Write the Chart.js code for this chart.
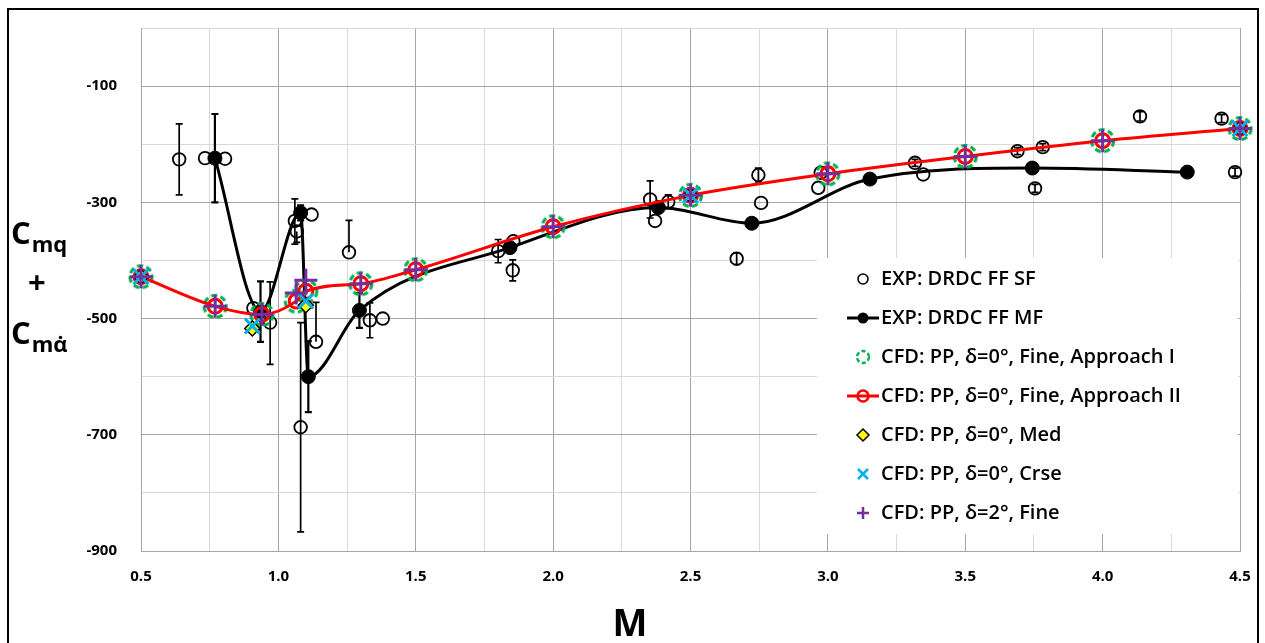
<!DOCTYPE html>
<html>
<head>
<meta charset="utf-8">
<script src="https://cdn.jsdelivr.net/npm/chart.js@4.4.0/dist/chart.umd.min.js"></script>
<style>
    body { margin: 0; background: #fff; }
    #wrap { position: relative; width: 1265px; height: 643px; overflow: hidden; background: #fff; }
    #frame { position: absolute; left: 7px; top: 8px; width: 1248px; height: 700px; border: 2px solid #000; }
    #chart { position: absolute; left: 0; top: 0; }
    .yt { position: absolute; font-family: "Open Sans", sans-serif; font-weight: 700; color: #000; line-height: 30px; font-size: 31px; white-space: nowrap; }
    .yt span { font-size: 22px; position: relative; top: 8px; margin-left: 1px; }
    #xtitle { position: absolute; left: 590px; width: 80px; top: 602px; text-align: center;
              font-family: "Open Sans", sans-serif; font-weight: 700; font-size: 37px; line-height: 40px; }
</style>
</head>
<body>
<div id="wrap">
    <div id="frame"></div>
    <canvas id="chart" width="1265" height="643"></canvas>
    <div class="yt" style="left:11px;top:217px">C<span>mq</span></div>
    <div class="yt" style="left:28px;top:266px">+</div>
    <div class="yt" style="left:11px;top:317px">C<span>mα̇</span></div>
    <div id="xtitle">M</div>
</div>
<script>
// EXP: DRDC FF SF (open circles, with error bars)
const sfMach   = [0.639, 0.733, 0.806, 0.909, 0.970, 1.060, 1.067, 1.081, 1.121, 1.137, 1.257, 1.333, 1.380, 1.800, 1.853, 1.855,
                  2.353, 2.371, 2.419, 2.668, 2.747, 2.757, 2.965, 2.974, 3.317, 3.347, 3.690, 3.754, 3.782, 4.136, 4.433, 4.482];
const sfCm     = [-226, -224, -225, -482, -507, -332, -350, -687, -321, -540, -386, -503, -500, -384, -417, -367,
                  -295, -332, -299, -397, -253, -301, -275, -249, -232, -252, -212, -276, -205, -152, -156, -248];
const sfErrUp  = [61, 0, 0, 0, 70, 38, 0, 180, 0, 68, 55, 30, 0, 20, 18, 0,
                  32, 0, 12, 10, 12, 0, 0, 0, 6, 0, 6, 7, 6, 8, 7, 7];
const sfErrDn  = [61, 0, 0, 0, 72, 40, 19, 180, 0, 0, 0, 30, 0, 20, 18, 0,
                  32, 0, 12, 10, 12, 0, 0, 0, 6, 0, 6, 7, 6, 8, 7, 7];

// EXP: DRDC FF MF (filled circles, smoothed line)
const mfMach   = [0.769, 0.935, 1.081, 1.109, 1.295, 1.843, 2.383, 2.723, 3.153, 3.744, 4.308];
const mfCm     = [-224, -488, -318, -600, -486, -378, -309, -336, -260, -241, -248];
const mfErr    = [76, 52, 13, 61, 30, 0, 0, 0, 0, 0, 0];

// CFD: PP, delta=0, Fine (Approach I and II)
const fineMach = [0.5, 0.77, 0.94, 1.065, 1.1, 1.3, 1.5, 2.0, 2.5, 3.0, 3.5, 4.0, 4.5];
const fineICm  = [-428, -479, -493, -470, -453, -440, -416, -342, -288, -251, -221, -194, -173];
const fineIICm = [-428, -479, -493, -470, -453, -440, -416, -342, -288, -251, -221, -194, -173];

// CFD: PP, delta=0, Med / Crse
const medMach  = [0.5, 0.905, 1.1, 2.5, 4.5];
const medCm    = [-428, -517, -477, -288, -173];
const crseMach = [0.5, 0.905, 1.1, 2.5, 4.5];
const crseCm   = [-428, -513, -470, -288, -173];

// CFD: PP, delta=2, Fine
const d2Mach   = [0.5, 0.77, 0.94, 1.065, 1.1, 1.3, 1.5, 2.0, 2.5, 3.0, 3.5, 4.0, 4.5];
const d2Cm     = [-428, -479, -493, -456, -434, -440, -416, -342, -288, -251, -221, -194, -173];

const legendLabels = [
    'EXP: DRDC FF SF',
    'EXP: DRDC FF MF',
    'CFD: PP, δ=0°, Fine, Approach I',
    'CFD: PP, δ=0°, Fine, Approach II',
    'CFD: PP, δ=0°, Med',
    'CFD: PP, δ=0°, Crse',
    'CFD: PP, δ=2°, Fine'
];

const GREEN = '#00b050', RED = '#ff0000', CYAN = '#00b0f0', PURPLE = '#7030a0', YELLOW = '#ffff00';

function pts(xs, ys) {
    return xs.map(function(x, i) { return { x: x, y: ys[i] }; });
}

function dashedRing(r, lw, dash) {
    var c = document.createElement('canvas');
    c.width = c.height = 2 * r + lw + 4;
    var g = c.getContext('2d');
    g.strokeStyle = GREEN;
    g.lineWidth = lw;
    g.setLineDash(dash);
    g.beginPath();
    g.arc(c.width / 2, c.height / 2, r, 0, Math.PI * 2);
    g.stroke();
    return c;
}
const ringBig = dashedRing(11, 3.2, [6, 3.5]);
const ringSmall = dashedRing(6, 2.5, [4, 2.5]);

function isMajorX(v) { return Math.abs(v * 2 - Math.round(v * 2)) < 1e-6; }
function isMajorY(v) { return Math.abs(((v + 100) % 200)) < 1e-6; }

const errorBars = {
    id: 'errorBars',
    beforeDatasetsDraw: function(chart) {
        var ctx = chart.ctx, xs = chart.scales.x, ys = chart.scales.y;
        function draw(mach, cm, up, dn, lw) {
            ctx.lineWidth = lw;
            for (var i = 0; i < mach.length; i++) {
                if (!up[i] && !dn[i]) continue;
                var x = xs.getPixelForValue(mach[i]);
                var yTop = ys.getPixelForValue(cm[i] + up[i]);
                var yBot = ys.getPixelForValue(cm[i] - dn[i]);
                ctx.beginPath();
                ctx.moveTo(x, yTop); ctx.lineTo(x, yBot);
                if (up[i]) { ctx.moveTo(x - 3.5, yTop); ctx.lineTo(x + 3.5, yTop); }
                if (dn[i]) { ctx.moveTo(x - 3.5, yBot); ctx.lineTo(x + 3.5, yBot); }
                ctx.stroke();
            }
        }
        ctx.save();
        ctx.strokeStyle = '#000';
        draw(sfMach, sfCm, sfErrUp, sfErrDn, 1.7);
        draw(mfMach, mfCm, mfErr, mfErr, 2.2);
        ctx.restore();
    }
};

const boxLegend = {
    id: 'boxLegend',
    afterDraw: function(chart) {
        var ctx = chart.ctx;
        var left = 817, top = 258, w = 421, h = 276;
        ctx.save();
        ctx.fillStyle = '#fff';
        ctx.fillRect(left, top, w, h);
        ctx.font = '600 20px "Open Sans"';
        ctx.textBaseline = 'middle';
        var mx = 863, tx = 881;
        legendLabels.forEach(function(label, i) {
            var y = top + 21 + i * 39;
            ctx.fillStyle = '#000';
            ctx.fillText(label, tx, y);
            if (i === 0) {
                ctx.strokeStyle = '#000'; ctx.lineWidth = 1.6;
                ctx.beginPath(); ctx.arc(mx, y, 5, 0, Math.PI * 2); ctx.stroke();
            } else if (i === 1) {
                ctx.strokeStyle = '#000'; ctx.lineWidth = 3;
                ctx.beginPath(); ctx.moveTo(847, y); ctx.lineTo(879, y); ctx.stroke();
                ctx.fillStyle = '#000';
                ctx.beginPath(); ctx.arc(mx, y, 5.5, 0, Math.PI * 2); ctx.fill();
            } else if (i === 2) {
                ctx.drawImage(ringSmall, mx - ringSmall.width / 2, y - ringSmall.height / 2);
            } else if (i === 3) {
                ctx.strokeStyle = RED; ctx.lineWidth = 3;
                ctx.beginPath(); ctx.moveTo(847, y); ctx.lineTo(879, y); ctx.stroke();
                ctx.lineWidth = 2.5;
                ctx.beginPath(); ctx.arc(mx, y, 5.5, 0, Math.PI * 2); ctx.stroke();
            } else if (i === 4) {
                ctx.fillStyle = YELLOW; ctx.strokeStyle = '#000'; ctx.lineWidth = 1.5;
                ctx.beginPath();
                ctx.moveTo(mx, y - 6); ctx.lineTo(mx + 6, y); ctx.lineTo(mx, y + 6); ctx.lineTo(mx - 6, y); ctx.closePath();
                ctx.fill(); ctx.stroke();
            } else if (i === 5) {
                ctx.strokeStyle = CYAN; ctx.lineWidth = 2.5;
                ctx.beginPath();
                ctx.moveTo(mx - 5, y - 5); ctx.lineTo(mx + 5, y + 5);
                ctx.moveTo(mx - 5, y + 5); ctx.lineTo(mx + 5, y - 5);
                ctx.stroke();
            } else {
                ctx.strokeStyle = PURPLE; ctx.lineWidth = 2.5;
                ctx.beginPath();
                ctx.moveTo(mx - 6, y); ctx.lineTo(mx + 6, y);
                ctx.moveTo(mx, y - 6); ctx.lineTo(mx, y + 6);
                ctx.stroke();
            }
        });
        ctx.restore();
    }
};

new Chart(document.getElementById('chart'), {
    type: 'scatter',
    data: {
        datasets: [
            { label: legendLabels[0], data: pts(sfMach, sfCm), order: 6, clip: false,
              pointStyle: 'circle', pointRadius: 6.3, pointBorderWidth: 1.8,
              pointBorderColor: '#000', pointBackgroundColor: 'rgba(0,0,0,0)' },
            { label: legendLabels[1], data: pts(mfMach, mfCm), order: 5, clip: false, showLine: true,
              borderColor: '#000', borderWidth: 3, cubicInterpolationMode: 'monotone',
              pointStyle: 'circle', pointRadius: 7, pointBorderWidth: 1,
              pointBorderColor: '#000', pointBackgroundColor: '#000' },
            { label: legendLabels[2], data: pts(fineMach, fineICm), order: 4, clip: false,
              pointStyle: ringBig, pointRadius: 11 },
            { label: legendLabels[3], data: pts(fineMach, fineIICm), order: 3, clip: false, showLine: true,
              borderColor: RED, borderWidth: 3, cubicInterpolationMode: 'monotone',
              pointStyle: 'circle', pointRadius: 7, pointBorderWidth: 3,
              pointBorderColor: RED, pointBackgroundColor: 'rgba(255,255,255,0)' },
            { label: legendLabels[4], data: pts(medMach, medCm), order: 2, clip: false,
              pointStyle: 'rectRot', pointRadius: 7.5, pointBorderWidth: 1.5,
              pointBorderColor: '#000', pointBackgroundColor: YELLOW },
            { label: legendLabels[5], data: pts(crseMach, crseCm), order: 1, clip: false,
              pointStyle: 'crossRot', pointRadius: 10.5, pointBorderWidth: 3,
              pointBorderColor: CYAN, pointBackgroundColor: CYAN },
            { label: legendLabels[6], data: pts(d2Mach, d2Cm), order: 0, clip: false,
              pointStyle: 'cross', pointRadius: 11.5, pointBorderWidth: 3,
              pointBorderColor: PURPLE, pointBackgroundColor: PURPLE }
        ]
    },
    options: {
        responsive: false,
        animation: false,
        devicePixelRatio: 1,
        layout: { padding: { left: 0, top: 28, right: 25, bottom: 0 } },
        plugins: { legend: { display: false }, tooltip: { enabled: false } },
        scales: {
            x: {
                type: 'linear', min: 0.5, max: 4.5,
                afterFit: function(scale) { scale.height = 92; scale.paddingLeft = 0; scale.paddingRight = 0; },
                border: { color: '#a6a6a6', width: 1 },
                grid: { drawTicks: false, lineWidth: 1,
                        color: function(c) { return c.tick && isMajorX(c.tick.value) ? '#a6a6a6' : '#d9d9d9'; } },
                ticks: { stepSize: 0.25, autoSkip: false, maxRotation: 0, padding: 17, color: '#000',
                         font: { family: 'Open Sans', size: 15, weight: '700' },
                         callback: function(v) { return isMajorX(v) ? v.toFixed(1) : ''; } }
            },
            y: {
                type: 'linear', min: -900, max: 0,
                afterFit: function(scale) { scale.width = 141; scale.paddingTop = 0; scale.paddingBottom = 0; },
                border: { color: '#a6a6a6', width: 1 },
                grid: { drawTicks: false, lineWidth: 1,
                        color: function(c) { return c.tick && isMajorY(c.tick.value) ? '#a6a6a6' : '#d9d9d9'; } },
                ticks: { stepSize: 100, autoSkip: false, padding: 24, color: '#000',
                         font: { family: 'Open Sans', size: 15, weight: '700' },
                         callback: function(v) { return isMajorY(v) ? String(v) : ''; } }
            }
        }
    },
    plugins: [errorBars, boxLegend]
});
</script>
</body>
</html>
